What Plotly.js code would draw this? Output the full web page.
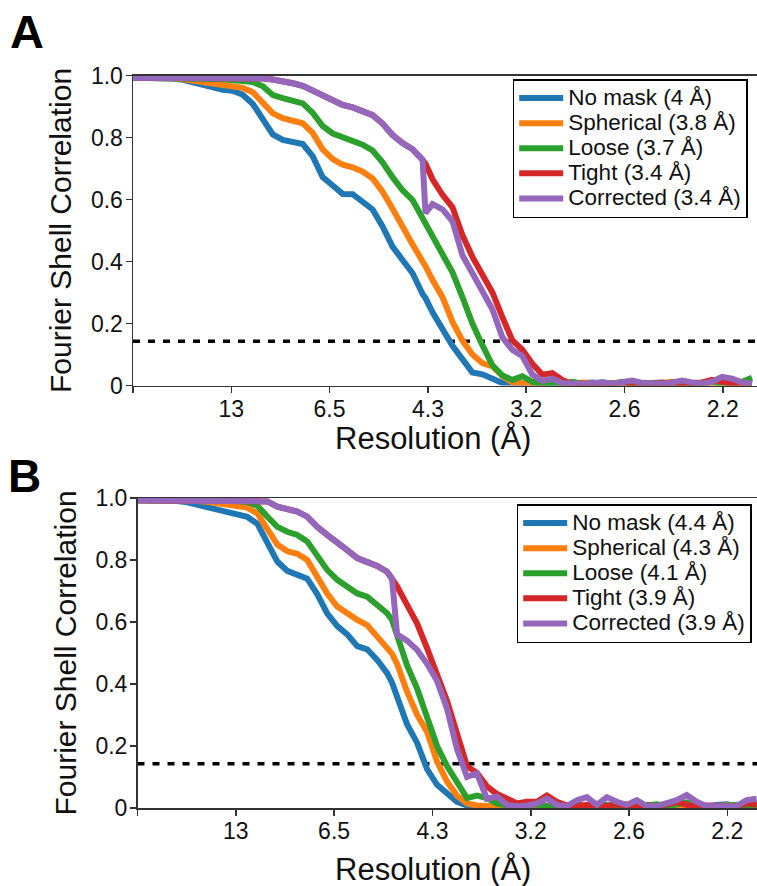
<!DOCTYPE html>
<html>
<head>
<meta charset="utf-8">
<script src="https://cdn.plot.ly/plotly-3.0.1.min.js"></script>
<style>html,body{margin:0;padding:0;background:#fff;}#chart{width:757px;height:886px;}</style>
</head>
<body>
<div id="chart"></div>
<script>
// Spatial frequency (1/Å); tick k sits at 13/k Å
const freqA = [0, 0.0078, 0.0156, 0.0234, 0.0313, 0.0391, 0.0469, 0.0547, 0.0625, 0.0703, 0.0781, 0.0859, 0.0938, 0.1016, 0.1094, 0.1172, 0.125, 0.1328, 0.1406, 0.1484, 0.1563, 0.1641, 0.1719, 0.1797, 0.1875, 0.1953, 0.2031, 0.2109, 0.2188, 0.2266, 0.2289, 0.2344, 0.2422, 0.25, 0.2578, 0.2656, 0.2734, 0.2813, 0.2891, 0.2969, 0.3047, 0.3125, 0.3203, 0.3281, 0.3359, 0.3438, 0.3516, 0.3594, 0.3672, 0.375, 0.3828, 0.3906, 0.3984, 0.4063, 0.4141, 0.4219, 0.4297, 0.4375, 0.4453, 0.4531, 0.4609, 0.4688, 0.4766, 0.4844];
const freqB = [0, 0.0078, 0.0156, 0.0234, 0.0313, 0.0391, 0.0469, 0.0547, 0.0625, 0.0703, 0.0781, 0.0859, 0.0938, 0.1016, 0.1094, 0.1172, 0.125, 0.1328, 0.1406, 0.1484, 0.1563, 0.1641, 0.1719, 0.1797, 0.1875, 0.1953, 0.1991, 0.2031, 0.2109, 0.2188, 0.2266, 0.2344, 0.2422, 0.25, 0.2578, 0.2656, 0.2734, 0.2813, 0.2891, 0.2969, 0.3047, 0.3125, 0.3203, 0.3281, 0.3359, 0.3438, 0.3516, 0.3594, 0.3672, 0.375, 0.3828, 0.3906, 0.3984, 0.4063, 0.4141, 0.4219, 0.4297, 0.4375, 0.4453, 0.4531, 0.4609, 0.4688, 0.4766, 0.4844];

const namesA = ["No mask (4 Å)", "Spherical (3.8 Å)", "Loose (3.7 Å)", "Tight (3.4 Å)", "Corrected (3.4 Å)"];
const namesB = ["No mask (4.4 Å)", "Spherical (4.3 Å)", "Loose (4.1 Å)", "Tight (3.9 Å)", "Corrected (3.9 Å)"];

const noMaskA = [0.993,0.993,0.993,0.992,0.99,0.986,0.978,0.968,0.958,0.954,0.951,0.938,0.908,0.86,0.81,0.792,0.785,0.779,0.74,0.672,0.645,0.618,0.617,0.594,0.568,0.513,0.448,0.405,0.362,0.295,0.282,0.236,0.182,0.128,0.085,0.042,0.036,0.022,0.008,0.006,0.005,0.005,0.006,0.008,0.006,0.005,0.007,0.01,0.006,0.005,0.008,0.006,0.005,0.008,0.01,0.006,0.005,0.007,0.006,0.01,0.012,0.008,0.006,0.005];
const sphericalA = [0.993,0.993,0.993,0.992,0.991,0.988,0.984,0.979,0.974,0.971,0.968,0.96,0.946,0.912,0.878,0.862,0.855,0.846,0.815,0.762,0.73,0.712,0.704,0.69,0.668,0.625,0.57,0.51,0.455,0.4,0.385,0.34,0.285,0.205,0.145,0.1,0.072,0.062,0.03,0.01,0.006,0.005,0.008,0.012,0.006,0.005,0.01,0.007,0.005,0.008,0.006,0.01,0.007,0.005,0.008,0.012,0.006,0.005,0.006,0.008,0.005,0.01,0.006,0.005];
const looseA = [0.993,0.993,0.993,0.993,0.993,0.992,0.991,0.99,0.989,0.988,0.986,0.984,0.979,0.965,0.937,0.927,0.92,0.91,0.88,0.837,0.813,0.802,0.793,0.777,0.758,0.72,0.672,0.63,0.598,0.54,0.525,0.48,0.425,0.365,0.285,0.2,0.13,0.065,0.032,0.018,0.03,0.012,0.006,0.008,0.005,0.012,0.006,0.005,0.01,0.006,0.012,0.005,0.008,0.006,0.005,0.01,0.007,0.006,0.008,0.012,0.006,0.008,0.012,0.025];
const tightA = [0.993,0.993,0.993,0.993,0.993,0.993,0.993,0.993,0.993,0.993,0.993,0.993,0.992,0.99,0.987,0.982,0.975,0.967,0.952,0.933,0.918,0.905,0.897,0.886,0.872,0.845,0.808,0.782,0.762,0.728,0.715,0.665,0.615,0.575,0.485,0.415,0.36,0.3,0.22,0.145,0.115,0.07,0.035,0.04,0.018,0.005,0.006,0.008,0.006,0.005,0.01,0.008,0.005,0.006,0.008,0.006,0.005,0.008,0.01,0.018,0.012,0.006,0.005,0.005];
const correctedA = [0.993,0.993,0.993,0.993,0.993,0.993,0.993,0.993,0.993,0.993,0.993,0.993,0.992,0.99,0.987,0.982,0.975,0.967,0.952,0.933,0.918,0.905,0.897,0.886,0.872,0.845,0.808,0.782,0.762,0.728,0.556,0.585,0.568,0.53,0.42,0.362,0.305,0.245,0.155,0.115,0.095,0.035,0.015,0.022,0.008,0.006,0.005,0.008,0.01,0.006,0.012,0.016,0.008,0.006,0.005,0.01,0.016,0.01,0.006,0.012,0.028,0.022,0.01,0.006];

const noMaskB = [0.993,0.993,0.993,0.992,0.99,0.986,0.978,0.97,0.962,0.955,0.949,0.939,0.917,0.86,0.795,0.765,0.755,0.74,0.69,0.628,0.587,0.56,0.522,0.512,0.478,0.435,0.405,0.36,0.27,0.21,0.125,0.075,0.045,0.02,0.008,0.006,0.005,0.008,0.006,0.005,0.007,0.01,0.006,0.005,0.008,0.012,0.006,0.005,0.01,0.006,0.005,0.008,0.01,0.006,0.005,0.01,0.006,0.008,0.005,0.01,0.012,0.006,0.005,0.008];
const sphericalB = [0.993,0.993,0.993,0.993,0.992,0.991,0.99,0.988,0.984,0.981,0.977,0.969,0.95,0.9,0.85,0.828,0.82,0.8,0.748,0.692,0.65,0.628,0.607,0.59,0.553,0.515,0.498,0.465,0.375,0.3,0.245,0.15,0.085,0.04,0.015,0.008,0.006,0.005,0.01,0.006,0.005,0.012,0.006,0.005,0.008,0.006,0.01,0.005,0.006,0.008,0.012,0.006,0.005,0.006,0.01,0.006,0.005,0.008,0.006,0.005,0.01,0.006,0.005,0.008];
const looseB = [0.993,0.993,0.993,0.993,0.993,0.993,0.993,0.992,0.992,0.991,0.99,0.987,0.975,0.94,0.907,0.891,0.881,0.86,0.812,0.768,0.736,0.714,0.692,0.682,0.655,0.628,0.607,0.555,0.46,0.385,0.29,0.2,0.135,0.085,0.032,0.04,0.032,0.015,0.008,0.006,0.01,0.012,0.006,0.005,0.01,0.008,0.006,0.012,0.008,0.005,0.01,0.006,0.008,0.012,0.006,0.01,0.018,0.008,0.006,0.005,0.008,0.01,0.006,0.012];
const tightB = [0.993,0.993,0.993,0.993,0.993,0.993,0.993,0.993,0.993,0.993,0.993,0.993,0.992,0.989,0.972,0.963,0.956,0.94,0.907,0.881,0.859,0.832,0.806,0.795,0.781,0.762,0.741,0.715,0.655,0.595,0.515,0.43,0.345,0.24,0.135,0.113,0.07,0.045,0.03,0.015,0.02,0.02,0.04,0.02,0.008,0.006,0.01,0.008,0.006,0.012,0.006,0.01,0.008,0.006,0.012,0.02,0.01,0.006,0.008,0.006,0.006,0.005,0.015,0.01];
const correctedB = [0.993,0.993,0.993,0.993,0.993,0.993,0.993,0.993,0.993,0.993,0.993,0.993,0.992,0.989,0.972,0.963,0.956,0.94,0.907,0.881,0.859,0.832,0.806,0.795,0.781,0.762,0.741,0.56,0.54,0.51,0.465,0.41,0.32,0.19,0.1,0.112,0.03,0.037,0.01,0.006,0.008,0.015,0.03,0.01,0.006,0.025,0.035,0.01,0.035,0.02,0.01,0.025,0.006,0.006,0.015,0.025,0.042,0.02,0.006,0.006,0.01,0.006,0.025,0.03];

const fscThreshold = 0.143;
const tickFreq = [0, 0.0769, 0.1538, 0.2308, 0.3077, 0.3846, 0.4615];
const tickRes = ["", "13", "6.5", "4.3", "3.2", "2.6", "2.2"];
const yTicks = [0, 0.2, 0.4, 0.6, 0.8, 1.0];
const yTickText = ["0", "0.2", "0.4", "0.6", "0.8", "1.0"];

const colors = ["#1f77b4", "#ff7f0e", "#2ca02c", "#d62728", "#9467bd"];
const FONT = "Liberation Sans, Arial, Helvetica, sans-serif";

const seriesA = [noMaskA, sphericalA, looseA, tightA, correctedA];
const seriesB = [noMaskB, sphericalB, looseB, tightB, correctedB];

const traces = [];
function addPanel(freq, series, names, xa, ya, legendId, xmax) {
  traces.push({
    x: [0, xmax], y: [fscThreshold, fscThreshold], xaxis: xa, yaxis: ya,
    mode: "lines", showlegend: false, hoverinfo: "skip",
    line: {color: "#000", width: 3.5, dash: "7px,8px"}
  });
  series.forEach((vals, k) => {
    traces.push({
      x: freq, y: vals, xaxis: xa, yaxis: ya,
      name: '<span style="font-size:22.5px">' + names[k] + '</span>', legend: legendId,
      mode: "lines", line: {color: colors[k], width: 6, shape: "linear"}
    });
  });
}
const xmaxA = 0.4883, xmaxB = 0.4847;
addPanel(freqA, seriesA, namesA, "x", "y", "legend", xmaxA);
addPanel(freqB, seriesB, namesB, "x2", "y2", "legend2", xmaxB);

const H = 886, W = 757;
function xAxis(domain, xmax) {
  return {
    domain: domain, range: [0, xmax], tickmode: "array", tickvals: tickFreq, ticktext: tickRes,
    showline: true, linecolor: "#333", linewidth: 1.5, mirror: true,
    ticks: "outside", ticklen: 6, tickwidth: 1.5, tickcolor: "#333", ticklabelstandoff: -4,
    showgrid: false, zeroline: false, tickfont: {family: FONT, size: 23, color: "#111"}
  };
}
function yAxis(domain, anchor) {
  return {
    domain: domain, range: [0, 1], anchor: anchor, tickmode: "array", tickvals: yTicks, ticktext: yTickText,
    showline: true, linecolor: "#333", linewidth: 1.5,
    ticks: "outside", ticklen: 6, tickwidth: 1.5, tickcolor: "#333", ticklabelstandoff: -2,
    showgrid: false, zeroline: false, tickfont: {family: FONT, size: 23, color: "#111"},
    title: {text: "Fourier Shell Correlation", font: {family: FONT, size: 30, color: "#111"}, standoff: 10}
  };
}
const legendStyle = (x, y) => ({
  x: x, y: y, xanchor: "left", yanchor: "top", bgcolor: "#fff", itemwidth: 44,
  bordercolor: "#000", borderwidth: 1.5, font: {family: FONT, size: 17, color: "#111"}
});

const layout = {
  width: W, height: H, margin: {l: 0, r: 0, t: 0, b: 0}, paper_bgcolor: "#fff", plot_bgcolor: "#fff",
  font: {family: FONT, color: "#111"},
  xaxis: Object.assign(xAxis([133 / W, 1], xmaxA), {anchor: "y"}),
  yaxis: yAxis([1 - 385.5 / H, 1 - 75.5 / H], "x"),
  xaxis2: Object.assign(xAxis([137.5 / W, 1], xmaxB), {anchor: "y2"}),
  yaxis2: yAxis([1 - 808 / H, 1 - 498 / H], "x2"),
  legend: legendStyle(512.7 / W, 1 - 79 / H),
  legend2: legendStyle(516.7 / W, 1 - 504 / H),
  annotations: [
    {text: "Resolution (Å)", xref: "paper", yref: "paper", x: 433 / W, y: 1 - 438 / H, xanchor: "center", yanchor: "middle", showarrow: false, font: {family: FONT, size: 31, color: "#111"}},
    {text: "Resolution (Å)", xref: "paper", yref: "paper", x: 433 / W, y: 1 - 869 / H, xanchor: "center", yanchor: "middle", showarrow: false, font: {family: FONT, size: 31, color: "#111"}},
    {text: "<b>A</b>", xref: "paper", yref: "paper", x: 27 / W, y: 1 - 31 / H, xanchor: "center", yanchor: "middle", showarrow: false, font: {family: FONT, size: 47, color: "#000"}},
    {text: "<b>B</b>", xref: "paper", yref: "paper", x: 24 / W, y: 1 - 476 / H, xanchor: "center", yanchor: "middle", showarrow: false, font: {family: FONT, size: 46, color: "#000"}}
  ]
};

Plotly.newPlot("chart", traces, layout, {displayModeBar: false, staticPlot: true});
</script>
</body>
</html>
